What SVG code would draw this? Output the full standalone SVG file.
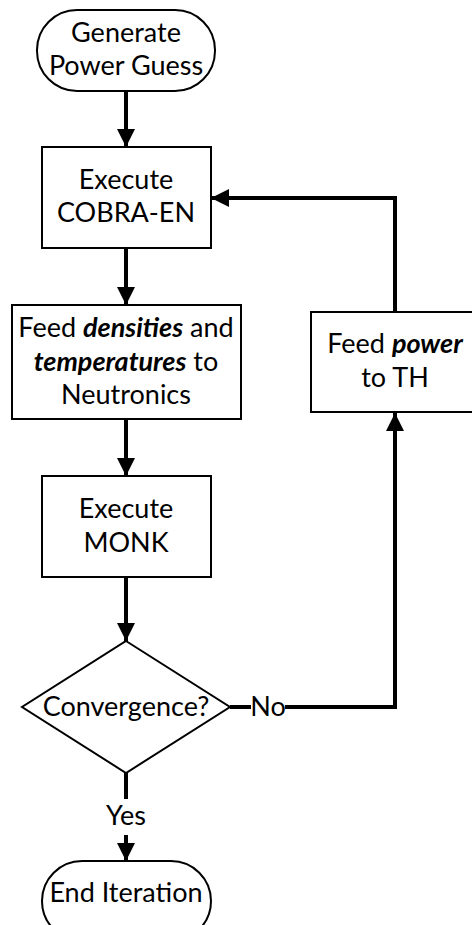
<svg xmlns="http://www.w3.org/2000/svg" width="472" height="925" viewBox="0 0 472 925">
<style>
.n{fill:#fff;stroke:#000;stroke-width:2}
.t{font-family:Lato,"Open Sans",sans-serif;font-size:27px;fill:#000;text-anchor:middle}
.b{font-weight:bold;font-style:italic}
.c{fill:none;stroke:#000;stroke-width:4}
</style>
<defs>
<marker id="ah" markerUnits="userSpaceOnUse" markerWidth="18" markerHeight="20" refX="18" refY="9" orient="auto" viewBox="0 0 18 18">
<path d="M0,0 L18,9 L0,18 Z" fill="#000"/>
</marker>
</defs>
<rect width="472" height="925" fill="#fff"/>
<g id="connectors">
<line class="c" x1="126" y1="91" x2="126" y2="147" marker-end="url(#ah)"/>
<line class="c" x1="126" y1="248" x2="126" y2="305" marker-end="url(#ah)"/>
<line class="c" x1="126" y1="419" x2="126" y2="476" marker-end="url(#ah)"/>
<line class="c" x1="126" y1="577" x2="126" y2="641" marker-end="url(#ah)"/>
<line class="c" x1="126" y1="773" x2="126" y2="799"/>
<line class="c" x1="126" y1="835" x2="126" y2="861" marker-end="url(#ah)"/>
<polyline class="c" points="230,707 251,707"/>
<polyline class="c" points="285,707 395,707 395,413" marker-end="url(#ah)"/>
<polyline class="c" points="395,312 395,198 211,198" marker-end="url(#ah)"/>
<text class="t" x="268" y="716">No</text>
<text class="t" x="126" y="825">Yes</text>
</g>
<g id="start">
<rect class="n" x="37" y="10" width="178" height="81" rx="40" ry="40"/>
<text class="t" x="126" y="42">Generate</text>
<text class="t" x="126" y="75">Power Guess</text>
</g>
<g id="cobra">
<rect class="n" x="42" y="147" width="169" height="101"/>
<text class="t" x="126" y="189">Execute</text>
<text class="t" x="126" y="222">COBRA-EN</text>
</g>
<g id="feed-densities">
<rect class="n" x="12" y="305" width="229" height="114"/>
<text class="t" x="126" y="337">Feed <tspan class="b">densities</tspan> and</text>
<text class="t" x="126" y="371"><tspan class="b">temperatures</tspan> to</text>
<text class="t" x="126" y="404">Neutronics</text>
</g>
<g id="monk">
<rect class="n" x="42" y="476" width="169" height="101"/>
<text class="t" x="126" y="518">Execute</text>
<text class="t" x="126" y="552">MONK</text>
</g>
<g id="feed-power">
<rect class="n" x="311" y="312" width="168" height="100"/>
<text class="t" x="395" y="353">Feed <tspan class="b">power</tspan></text>
<text class="t" x="395" y="387">to TH</text>
</g>
<g id="convergence">
<polygon class="n" points="126,641 230,707 126,773 22,707"/>
<text class="t" x="126" y="716">Convergence?</text>
</g>
<g id="end">
<rect class="n" x="42" y="861" width="169" height="80" rx="40" ry="40"/>
<text class="t" x="126" y="902">End Iteration</text>
</g>
</svg>
